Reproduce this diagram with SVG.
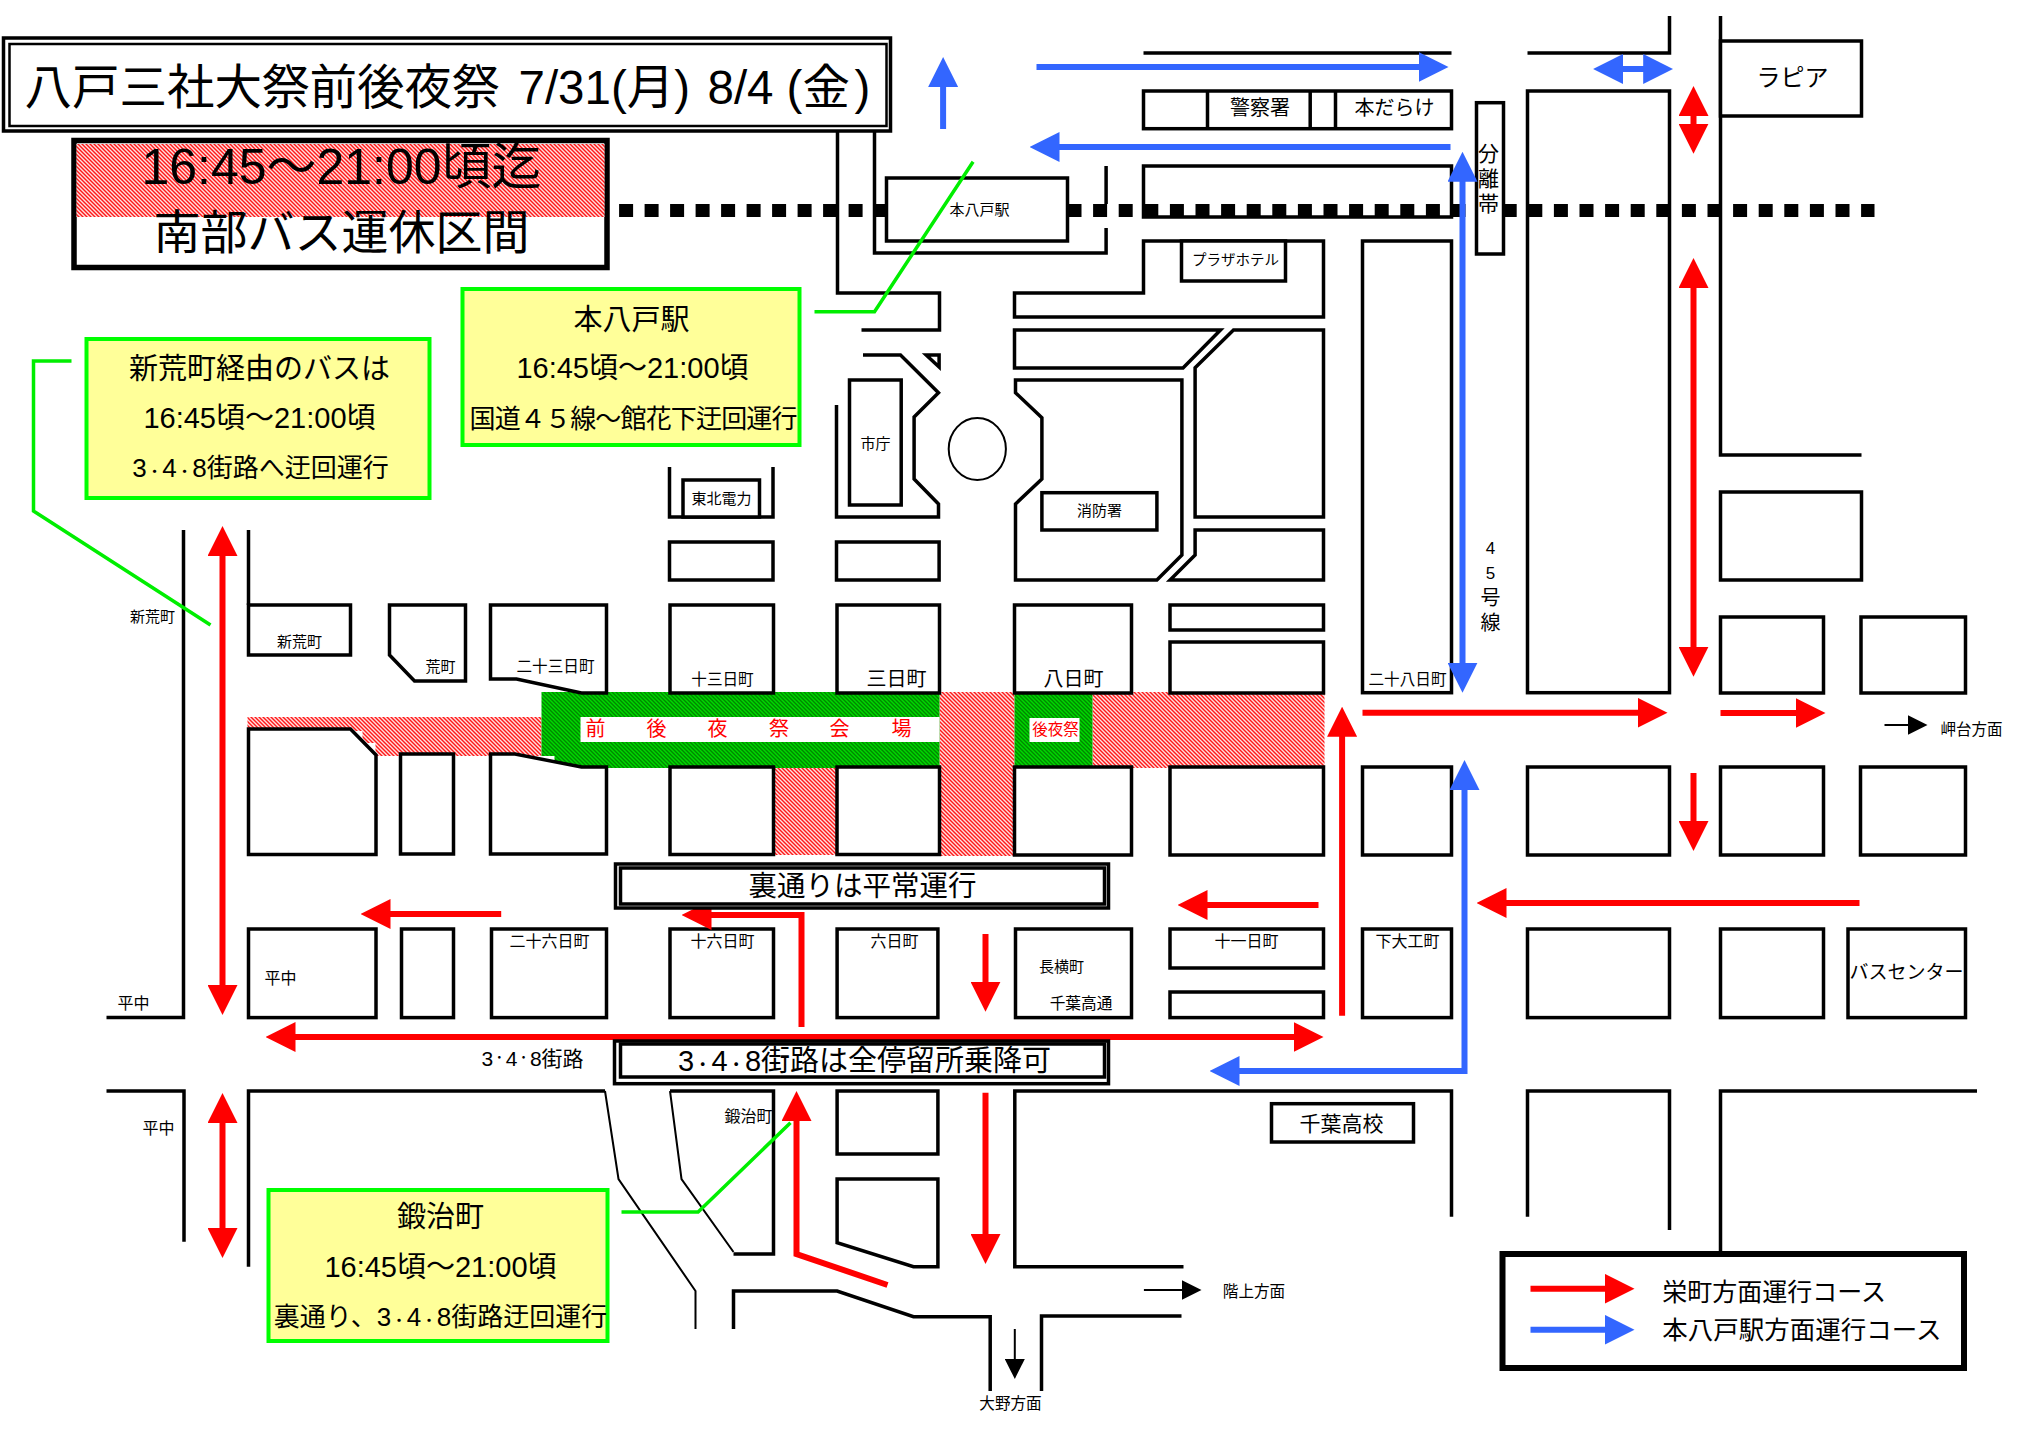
<svg xmlns="http://www.w3.org/2000/svg" width="2022" height="1431" viewBox="0 0 2022 1431">
<style>
text{font-family:"Liberation Sans","Noto Sans CJK JP",sans-serif;fill:#000}
.c{text-anchor:middle;dominant-baseline:central}
.m{text-anchor:middle}
.b{fill:#fff;stroke:#000;stroke-width:3.5}
.l{fill:none;stroke:#000;stroke-width:3.5}
.t{fill:none;stroke:#000;stroke-width:2}
.g{fill:#ffff99;stroke:#00ff00;stroke-width:4}
.gl{fill:none;stroke:#00ee00;stroke-width:3.5}
.r{fill:none;stroke:#ff0000;stroke-width:6;marker-end:url(#ar)}
.r2{marker-start:url(#ar)}
.u{fill:none;stroke:#3366ff;stroke-width:6;marker-end:url(#au)}
.u2{marker-start:url(#au)}
.k{fill:none;stroke:#000;stroke-width:2;marker-end:url(#ak)}
.d{font-size:.6em}
.rt{fill:#ff0000}
</style>
<defs>
<marker id="ar" markerUnits="userSpaceOnUse" markerWidth="30" markerHeight="30" viewBox="0 0 30 30" refX="5" refY="15" orient="auto-start-reverse"><path d="M0,0L30,15L0,30Z" fill="#ff0000"/></marker>
<marker id="au" markerUnits="userSpaceOnUse" markerWidth="30" markerHeight="30" viewBox="0 0 30 30" refX="5" refY="15" orient="auto-start-reverse"><path d="M0,0L30,15L0,30Z" fill="#3366ff"/></marker>
<marker id="ak" markerUnits="userSpaceOnUse" markerWidth="20" markerHeight="20" viewBox="0 0 20 20" refX="2" refY="10" orient="auto"><path d="M0,0L20,10L0,20Z" fill="#000"/></marker>
<pattern id="hr" width="4" height="4" patternUnits="userSpaceOnUse"><rect width="4" height="4" fill="#ff1818"/><path d="M0,0h2v1h-2zM1,1h2v1h-2zM2,2h2v1h-2zM3,3h1v1h-1zM0,3h1v1h-1z" fill="#ffe0e0"/></pattern>
<pattern id="hg" width="4" height="4" patternUnits="userSpaceOnUse"><rect width="4" height="4" fill="#00d800"/><path d="M0,0h2v1h-2zM1,1h2v1h-2zM2,2h2v1h-2zM3,3h1v1h-1zM0,3h1v1h-1z" fill="#008800"/></pattern>
</defs>
<rect width="2022" height="1431" fill="#fff"/>
<g transform="translate(0.5,1)">

<g id="festival-area">
<path d="M247,716H541V755H375V742H362V730H247Z" fill="url(#hr)"/>
<rect x="939" y="691" width="75" height="164" fill="url(#hr)"/>
<rect x="773" y="766" width="64" height="88" fill="url(#hr)"/>
<rect x="1092" y="691" width="232" height="76" fill="url(#hr)"/>
<path d="M541,691H939V767H554V755H541Z" fill="url(#hg)"/>
<rect x="1014" y="692" width="78" height="74" fill="url(#hg)"/>
<rect x="580" y="716" width="359" height="25" fill="#fff"/>
<rect x="1029" y="717" width="50" height="24" fill="#fff"/>
<g font-size="20" class="rt">
<text class="c rt" x="595" y="728">前</text><text class="c rt" x="656" y="728">後</text><text class="c rt" x="717" y="728">夜</text><text class="c rt" x="778.6" y="728">祭</text><text class="c rt" x="839" y="728">会</text><text class="c rt" x="901" y="728">場</text>
</g>
<text class="c rt" x="1055" y="728" font-size="15.5">後夜祭</text>
</g>

<g id="roads">
<path class="l" d="M837,130V292H939V329H861"/>
<path class="l" d="M874,130V252H1105.6V227M1105.6,165V203"/>
<path class="l" d="M1143,52H1451M1527,52H1669V15"/>
<path class="l" d="M1720,15V454H1861"/>
<path class="l" d="M183,529V1016.6H106"/>
<path class="l" d="M248,529V604"/>
<path class="l" d="M106,1090H183.5V1240.7"/>
<path class="l" d="M248,1265.7V1090H604.5"/>
<path class="t" d="M604.5,1090L618,1178L695,1290V1328"/>
<path class="t" d="M669.5,1090L681,1178L733,1251"/>
<path class="l" d="M733,1253H773V1090H669.5"/>
<path class="l" d="M733,1328V1290H836.6L913,1315.7H989.7V1390"/>
<path class="l" d="M1041,1390V1315H1181"/>
<path class="l" d="M1183,1265.7H1014.3V1090H1451V1215.7"/>
<path class="l" d="M1527,1215.7V1090H1669V1229"/>
<path class="l" d="M1976.5,1090H1720V1251"/>
</g>

<g id="block-tohoku"><path class="b" d="M669,466V516H772.5V466"/><rect class="b" x="682.5" y="479" width="76.5" height="37"/><text class="c" x="721" y="497" font-size="15">東北電力</text></g>
<g id="block-c1"><rect class="b" x="669" y="541" width="103.500" height="38"/></g>
<g id="block-c2"><rect class="b" x="836" y="541" width="102.600" height="38"/></g>
<g id="block-hex"><path class="b" style="fill:none" d="M862.500,354H900L938,391.700L913.600,416V478L938,503V516H836V404"/><path d="M925.700,354H938.600V366Z" class="b"/></g>
<g id="block-cityhall"><rect class="b" x="849" y="379" width="51.700" height="125"/><text class="c" x="875" y="442" font-size="15">市庁</text></g>
<g id="roundabout"><ellipse cx="976.800" cy="448" rx="28.600" ry="31" fill="#fff" stroke="#000" stroke-width="2"/></g>
<g id="block-police"><rect class="b" x="1143" y="90" width="308" height="37.700"/><path class="l" d="M1207,90V127.700M1309.700,90V127.700M1335,90V127.700"/><text class="c" x="1259.500" y="107" font-size="20">警察署</text><text class="c" x="1394" y="107" font-size="20">本だらけ</text></g>
<g id="block-north"><rect class="b" x="1143" y="165" width="308" height="51"/></g>
<g id="block-plaza"><path class="b" d="M1143,240H1323V316H1014V292H1143Z"/><rect class="b" x="1181" y="240" width="104" height="40"/><text class="c" x="1235" y="259" font-size="14.500">プラザホテル</text></g>
<g id="block-p1"><path class="b" d="M1014,329H1220L1182.500,367H1014Z"/></g>
<g id="block-p2"><path class="b" d="M1233,329H1323V516H1194.600V366.700Z"/></g>
<g id="block-p3"><path class="b" d="M1194.600,529H1323V579H1169.600L1194.600,554Z"/></g>
<g id="block-fire"><path class="b" d="M1015,379H1181.400V554L1156.400,579H1015V503L1041.400,478V416.700L1015,391.700Z"/><rect class="b" x="1041.400" y="491.700" width="115" height="37.300"/><text class="c" x="1099" y="509" font-size="15">消防署</text></g>
<g id="block-28"><rect class="b" x="1362" y="240" width="89" height="451.700"/><text class="c" x="1407" y="678" font-size="15.600">二十八日町</text></g>
<g id="block-e1"><rect class="b" x="1527" y="90" width="142" height="601.700"/></g>
<g id="block-lapia"><rect class="b" x="1720" y="40" width="141" height="75"/><text class="c" x="1792" y="76" font-size="24">ラピア</text></g>
<g id="block-e2"><rect class="b" x="1720" y="491" width="141" height="88"/></g>
<g id="block-e3"><rect class="b" x="1720" y="616" width="103" height="76"/></g>
<g id="block-e4"><rect class="b" x="1860.500" y="616" width="104.500" height="76"/></g>
<g id="block-shinaramachi"><rect class="b" x="248" y="604" width="102" height="50"/><text class="c" x="299" y="640" font-size="15">新荒町</text></g>
<g id="block-aramachi"><path class="b" d="M389,604H465V680H414L389,654Z"/><text class="c" x="440" y="665.700" font-size="15">荒町</text></g>
<g id="block-23"><path class="b" d="M490,604H606V692H581L516,678H490Z"/><text class="c" x="555" y="665.700" font-size="15.600">二十三日町</text></g>
<g id="block-13"><rect class="b" x="669.500" y="604" width="103.500" height="88"/><text class="c" x="722" y="678" font-size="15.600">十三日町</text></g>
<g id="block-3"><rect class="b" x="836.500" y="604" width="102.500" height="88"/><text class="c" x="896" y="678" font-size="20">三日町</text></g>
<g id="block-8"><rect class="b" x="1014" y="604" width="117" height="88"/><text class="c" x="1073" y="678" font-size="20">八日町</text></g>
<g id="block-r1"><rect class="b" x="1169.500" y="604" width="153.500" height="25"/></g>
<g id="block-r2"><rect class="b" x="1169.500" y="641" width="153.500" height="51"/></g>

<g id="block-m1"><path class="b" d="M248,728H350L375.500,754V853.500H248Z"/></g>
<g id="block-m2"><rect class="b" x="400" y="753" width="53" height="100"/></g>
<g id="block-m3"><path class="b" d="M490,753H514.500L581,766H606V853H490Z"/></g>
<g id="block-m4"><rect class="b" x="669.500" y="766" width="103.500" height="87.500"/></g>
<g id="block-m5"><rect class="b" x="836.500" y="766" width="102.500" height="87.500"/></g>
<g id="block-m6"><rect class="b" x="1014" y="766" width="117" height="88"/></g>
<g id="block-m7"><rect class="b" x="1169.500" y="766" width="153.500" height="88"/></g>
<g id="block-m8"><rect class="b" x="1362" y="766" width="89" height="88"/></g>
<g id="block-m9"><rect class="b" x="1527" y="766" width="142" height="88"/></g>
<g id="block-m10"><rect class="b" x="1720" y="766" width="103" height="88"/></g>
<g id="block-m11"><rect class="b" x="1860" y="766" width="105" height="88"/></g>

<g id="block-hiranaka"><rect class="b" x="248" y="928" width="127.500" height="88.600"/><text class="c" x="280" y="977" font-size="16">平中</text></g>
<g id="block-s2"><rect class="b" x="401" y="928" width="52" height="88.600"/></g>
<g id="block-26"><rect class="b" x="491" y="928" width="115" height="88.600"/><text class="c" x="549" y="940.700" font-size="16">二十六日町</text></g>
<g id="block-16"><rect class="b" x="669.500" y="928" width="103.500" height="88.600"/><text class="c" x="722" y="940.700" font-size="16">十六日町</text></g>
<g id="block-6"><rect class="b" x="836.600" y="928" width="100.800" height="88.600"/><text class="c" x="894" y="940.700" font-size="16">六日町</text></g>
<g id="block-nagayoko"><rect class="b" x="1015" y="928" width="116" height="88.600"/><text class="c" x="1061" y="965" font-size="15">長横町</text><text class="c" x="1080.500" y="1002" font-size="15.700">千葉高通</text></g>
<g id="block-11"><rect class="b" x="1169.500" y="928" width="153.500" height="39"/><text class="c" x="1246" y="940.700" font-size="16">十一日町</text></g>
<g id="block-s7"><rect class="b" x="1169.500" y="991" width="153.500" height="25.600"/></g>
<g id="block-shimodaiku"><rect class="b" x="1362" y="928" width="89" height="88.600"/><text class="c" x="1407" y="940.700" font-size="16">下大工町</text></g>
<g id="block-s9"><rect class="b" x="1527" y="928" width="142" height="88.600"/></g>
<g id="block-s10"><rect class="b" x="1720" y="928" width="103" height="88.600"/></g>
<g id="block-buscenter"><rect class="b" x="1847.500" y="928" width="117.500" height="88.600"/><text class="c" x="1906" y="971.700" font-size="19">バスセンター</text></g>
<g id="block-l1"><rect class="b" x="836.600" y="1090" width="100.800" height="63"/></g>
<g id="block-l2"><path class="b" d="M836.600,1178H937.400V1265.700H913L836.600,1241.700Z"/></g>
<g id="block-chiba"><rect class="b" x="1271" y="1102.700" width="142" height="38.300"/><text class="c" x="1341" y="1122" font-size="21">千葉高校</text></g>

<g id="rail-line" fill="none" stroke="#000" stroke-width="13">
<path d="M618.600,209.500H890" stroke-dasharray="14 11.500"/>
<path d="M1067,209.500H1874" stroke-dasharray="14 11.600"/>
</g>

<g id="station"><rect class="b" x="886" y="177" width="181" height="63"/><text class="c" x="979" y="208" font-size="15">本八戸駅</text></g>
<g id="median"><rect class="b" x="1476" y="101.700" width="27" height="151.300"/><text class="c" x="1488" y="152" font-size="21">分</text><text class="c" x="1488" y="177" font-size="21">離</text><text class="c" x="1488" y="202" font-size="21">帯</text></g>

<g id="connectors">
<path class="r r2" d="M222,550V989"/>
<path class="r r2" d="M222,1117V1232"/>
<path class="r" d="M500.700,913H385"/>
<path class="r" d="M801,1026V914H706"/>
<path class="r r2" d="M290,1036H1298"/>
<path class="r" d="M985,933V985.700"/>
<path class="r" d="M1318,904H1202"/>
<path class="r" d="M1341.600,1014.700V730.700"/>
<path class="r" d="M1362,711.700H1642"/>
<path class="r" d="M1720,712H1800"/>
<path class="r" d="M1693,772V825"/>
<path class="r" d="M1859,902H1501"/>
<path class="r r2" d="M1693,282V650.700"/>
<path class="r r2" d="M1693,110V127.700"/>
<path class="r" d="M887,1284L796,1253V1115"/>
<path class="r" d="M985,1091.700V1238"/>
<path class="u" d="M942.600,128V81"/>
<path class="u" d="M1036,66H1423"/>
<path class="u" d="M1450,146H1054"/>
<path class="u u2" d="M1617.600,68H1647.700"/>
<path class="u u2" d="M1462,175.700V666.700"/>
<path class="u u2" d="M1234,1070H1464V784"/>
<path class="k" d="M1884,724H1909"/>
<path class="k" d="M1143.400,1289H1183"/>
<path class="k" d="M1014.300,1328V1360"/>
<path class="gl" d="M814,310.700H874L972.600,160.700"/>
<path class="gl" d="M71,360H33V510L210,624"/>
<path class="gl" d="M621,1211H697.600L790,1121.700"/>
</g>

<g id="title"><rect x="3" y="37" width="887" height="93" fill="#fff" stroke="#000" stroke-width="3.500"/><rect x="9" y="43" width="877" height="82" fill="none" stroke="#000" stroke-width="2.500"/><text x="24" y="103" font-size="47.500">八戸三社大祭前後夜祭 <tspan x="518">7/31(月)</tspan> <tspan x="707">8/4</tspan><tspan x="786">(</tspan><tspan x="802">金</tspan><tspan x="854">)</tspan></text></g>
<g id="notice"><rect x="73.500" y="139.500" width="533" height="127" fill="#fff" stroke="#000" stroke-width="5.500"/><rect x="76" y="143" width="528" height="73" fill="url(#hr)"/><text class="m" x="341" y="183" font-size="50">16:45～21:00頃迄</text><text class="m" x="341" y="248" font-size="47">南部バス運休区間</text></g>

<g id="callout-station"><rect class="g" x="462" y="288" width="337" height="156"/><text class="m" x="631" y="329" font-size="29">本八戸駅</text><text class="m" x="632" y="377" font-size="29">16:45頃～21:00頃</text><text class="m" x="633" y="427" font-size="26" textLength="328">国道４５線～館花下迂回運行</text></g>
<g id="callout-shinaramachi"><rect class="g" x="86" y="338" width="343" height="159"/><text class="m" x="259" y="378" font-size="29">新荒町経由のバスは</text><text class="m" x="259" y="427" font-size="29">16:45頃～21:00頃</text><text class="m" x="260" y="476" font-size="26">3<tspan class="d">・</tspan>4<tspan class="d">・</tspan>8街路へ迂回運行</text></g>
<g id="callout-kajimachi"><rect class="g" x="268" y="1189" width="339" height="151"/><text class="m" x="440" y="1226" font-size="29">鍛治町</text><text class="m" x="440" y="1276" font-size="29">16:45頃～21:00頃</text><text class="m" x="440" y="1325" font-size="26">裏通り、3<tspan class="d">・</tspan>4<tspan class="d">・</tspan>8街路迂回運行</text></g>

<g id="sign-ura"><rect class="b" x="615" y="863" width="493" height="44"/><rect class="b" x="620" y="867" width="484" height="36"/><text class="m" x="862" y="895" font-size="28.500">裏通りは平常運行</text></g>
<g id="sign-348"><rect class="b" x="614" y="1040" width="494" height="42.700"/><rect class="b" x="620" y="1043" width="484" height="33"/><text class="m" x="864" y="1070" font-size="29">3<tspan class="d">・</tspan>4<tspan class="d">・</tspan>8街路は全停留所乗降可</text></g>

<g id="labels">
<text class="c" x="152" y="615" font-size="15">新荒町</text>
<text class="c" x="133" y="1002" font-size="16">平中</text>
<text class="c" x="158" y="1127" font-size="16">平中</text>
<text class="c" x="532" y="1057" font-size="21">3<tspan class="d">・</tspan>4<tspan class="d">・</tspan>8街路</text>
<text class="c" x="748" y="1115" font-size="16">鍛治町</text>
<text class="c" x="1971" y="728" font-size="15.500">岬台方面</text>
<text class="c" x="1253.500" y="1290.700" font-size="15.600">階上方面</text>
<text class="c" x="1010" y="1402" font-size="15.600">大野方面</text>
<text class="c" x="1490" y="547" font-size="17">4</text>
<text class="c" x="1490" y="572" font-size="17">5</text>
<text class="c" x="1490" y="597" font-size="20">号</text>
<text class="c" x="1490" y="622" font-size="20">線</text>
</g>

<g id="legend"><rect x="1502" y="1253" width="461.500" height="114" fill="#fff" stroke="#000" stroke-width="6"/><path class="r" d="M1530,1287.700H1609"/><path class="u" d="M1530,1328.700H1609"/><text x="1661.700" y="1300" font-size="25">栄町方面運行コース</text><text x="1661.700" y="1338" font-size="25.500">本八戸駅方面運行コース</text></g>
</g>
</svg>
